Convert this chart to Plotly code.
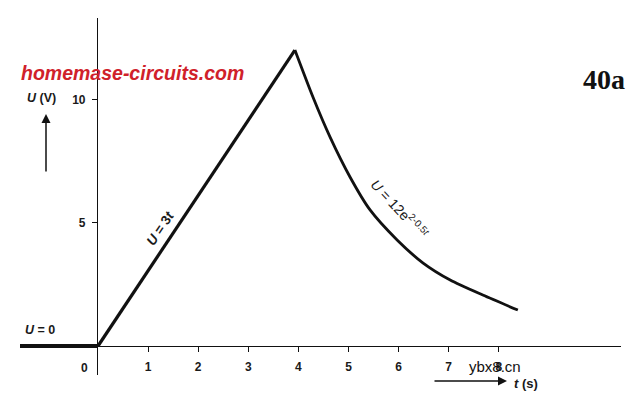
import plotly.graph_objects as go

# ---- data ----
t_zero = [-1.56, 0.0]
u_zero = [0.0, 0.0]

t_rise = [0.0, 3.93]
u_rise = [0.0, 12.03]

t_decay = [3.93, 4.29, 4.63, 5.03, 5.43, 5.97, 6.49, 7.03, 7.68, 8.38]
u_decay = [12.03, 10.12, 8.50, 6.87, 5.53, 4.31, 3.37, 2.68, 2.07, 1.46]

x_ticks = [1, 2, 3, 4, 5, 6, 7, 8]
y_ticks = [5, 10]

W, H = 643, 395
def px(x):
    return x / W
def py(y):
    return 1 - y / H

LINE = "#111111"
FONT = "Liberation Sans, Arial, sans-serif"

fig = go.Figure()
fig.add_trace(go.Scatter(x=t_zero, y=u_zero, mode="lines",
                         line=dict(color=LINE, width=4), hoverinfo="skip"))
fig.add_trace(go.Scatter(x=t_rise, y=u_rise, mode="lines",
                         line=dict(color=LINE, width=3.2), hoverinfo="skip"))
fig.add_trace(go.Scatter(x=t_decay, y=u_decay, mode="lines",
                         line=dict(color=LINE, width=2.8, shape="spline", smoothing=0.7),
                         hoverinfo="skip"))

fig.update_layout(
    width=W, height=H,
    margin=dict(l=0, r=0, t=0, b=0),
    paper_bgcolor="white", plot_bgcolor="rgba(0,0,0,0)",
    showlegend=False,
    font=dict(family=FONT, color="#1a1a1a", size=11),
    xaxis=dict(
        domain=[px(20), px(621)],
        range=[-1.557, 10.439],
        anchor="free", position=py(346),
        showline=True, linecolor=LINE, linewidth=1.2,
        ticks="outside", ticklen=5, tickcolor=LINE, tickwidth=1.2,
        tickvals=x_ticks, ticktext=["<b>%d</b>" % v for v in x_ticks],
        tickfont=dict(family=FONT, size=12, color="#1a1a1a"),
        ticklabelstandoff=4,
        showgrid=False, zeroline=False,
    ),
    yaxis=dict(
        domain=[py(375), py(18)],
        range=[-1.179, 13.333],
        anchor="free", position=px(97),
        showline=True, linecolor=LINE, linewidth=1.2,
        ticks="outside", ticklen=5, tickcolor=LINE, tickwidth=1.2,
        tickvals=y_ticks, ticktext=["<b>%d</b>" % v for v in y_ticks],
        tickfont=dict(family=FONT, size=12, color="#1a1a1a"),
        ticklabelstandoff=4,
        showgrid=False, zeroline=False,
    ),
)

ann = []
def text(x, y, s, size=11, color="#1a1a1a", family=FONT, angle=0, xanchor="center"):
    ann.append(dict(x=px(x), y=py(y), xref="paper", yref="paper", text=s,
                    showarrow=False, textangle=angle, xanchor=xanchor, yanchor="middle",
                    font=dict(size=size, color=color, family=family)))

text(132, 73, "<b><i>homemase-circuits.com</i></b>", size=19.5, color="#d0212a",
     family="Liberation Sans, Arial, sans-serif")
text(604, 80, "<b>40a</b>", size=28, color="#111111",
     family="Liberation Serif, Times New Roman, serif")
text(41, 98, "<b><i>U</i> (V)</b>", size=12.5)
text(40, 330, "<b><i>U</i> = 0</b>", size=12.5)
text(85, 368, "<b>0</b>", size=12)
text(160, 228, "<b><i>U</i> = 3<i>t</i></b>", size=13.5, angle=-56)
text(400, 209, "<i>U</i> = 12e<sup>2-0.5<i>t</i></sup>", size=14, angle=47)
text(495, 366, "ybx8.cn", size=15, color="#111111", family="Liberation Sans, Arial, sans-serif")
text(526, 383, "<b><i>t</i> (s)</b>", size=13)

# arrows
ann.append(dict(x=px(46), y=py(114), xref="paper", yref="paper",
                ax=0, ay=59, axref="pixel", ayref="pixel",
                showarrow=True, arrowhead=2, arrowsize=1.2, arrowwidth=1.5,
                arrowcolor=LINE, text=""))
ann.append(dict(x=px(507), y=py(381), xref="paper", yref="paper",
                ax=-74, ay=0, axref="pixel", ayref="pixel",
                showarrow=True, arrowhead=2, arrowsize=1.2, arrowwidth=1.5,
                arrowcolor=LINE, text=""))
fig.update_layout(annotations=ann)

fig.write_html("out.html")
